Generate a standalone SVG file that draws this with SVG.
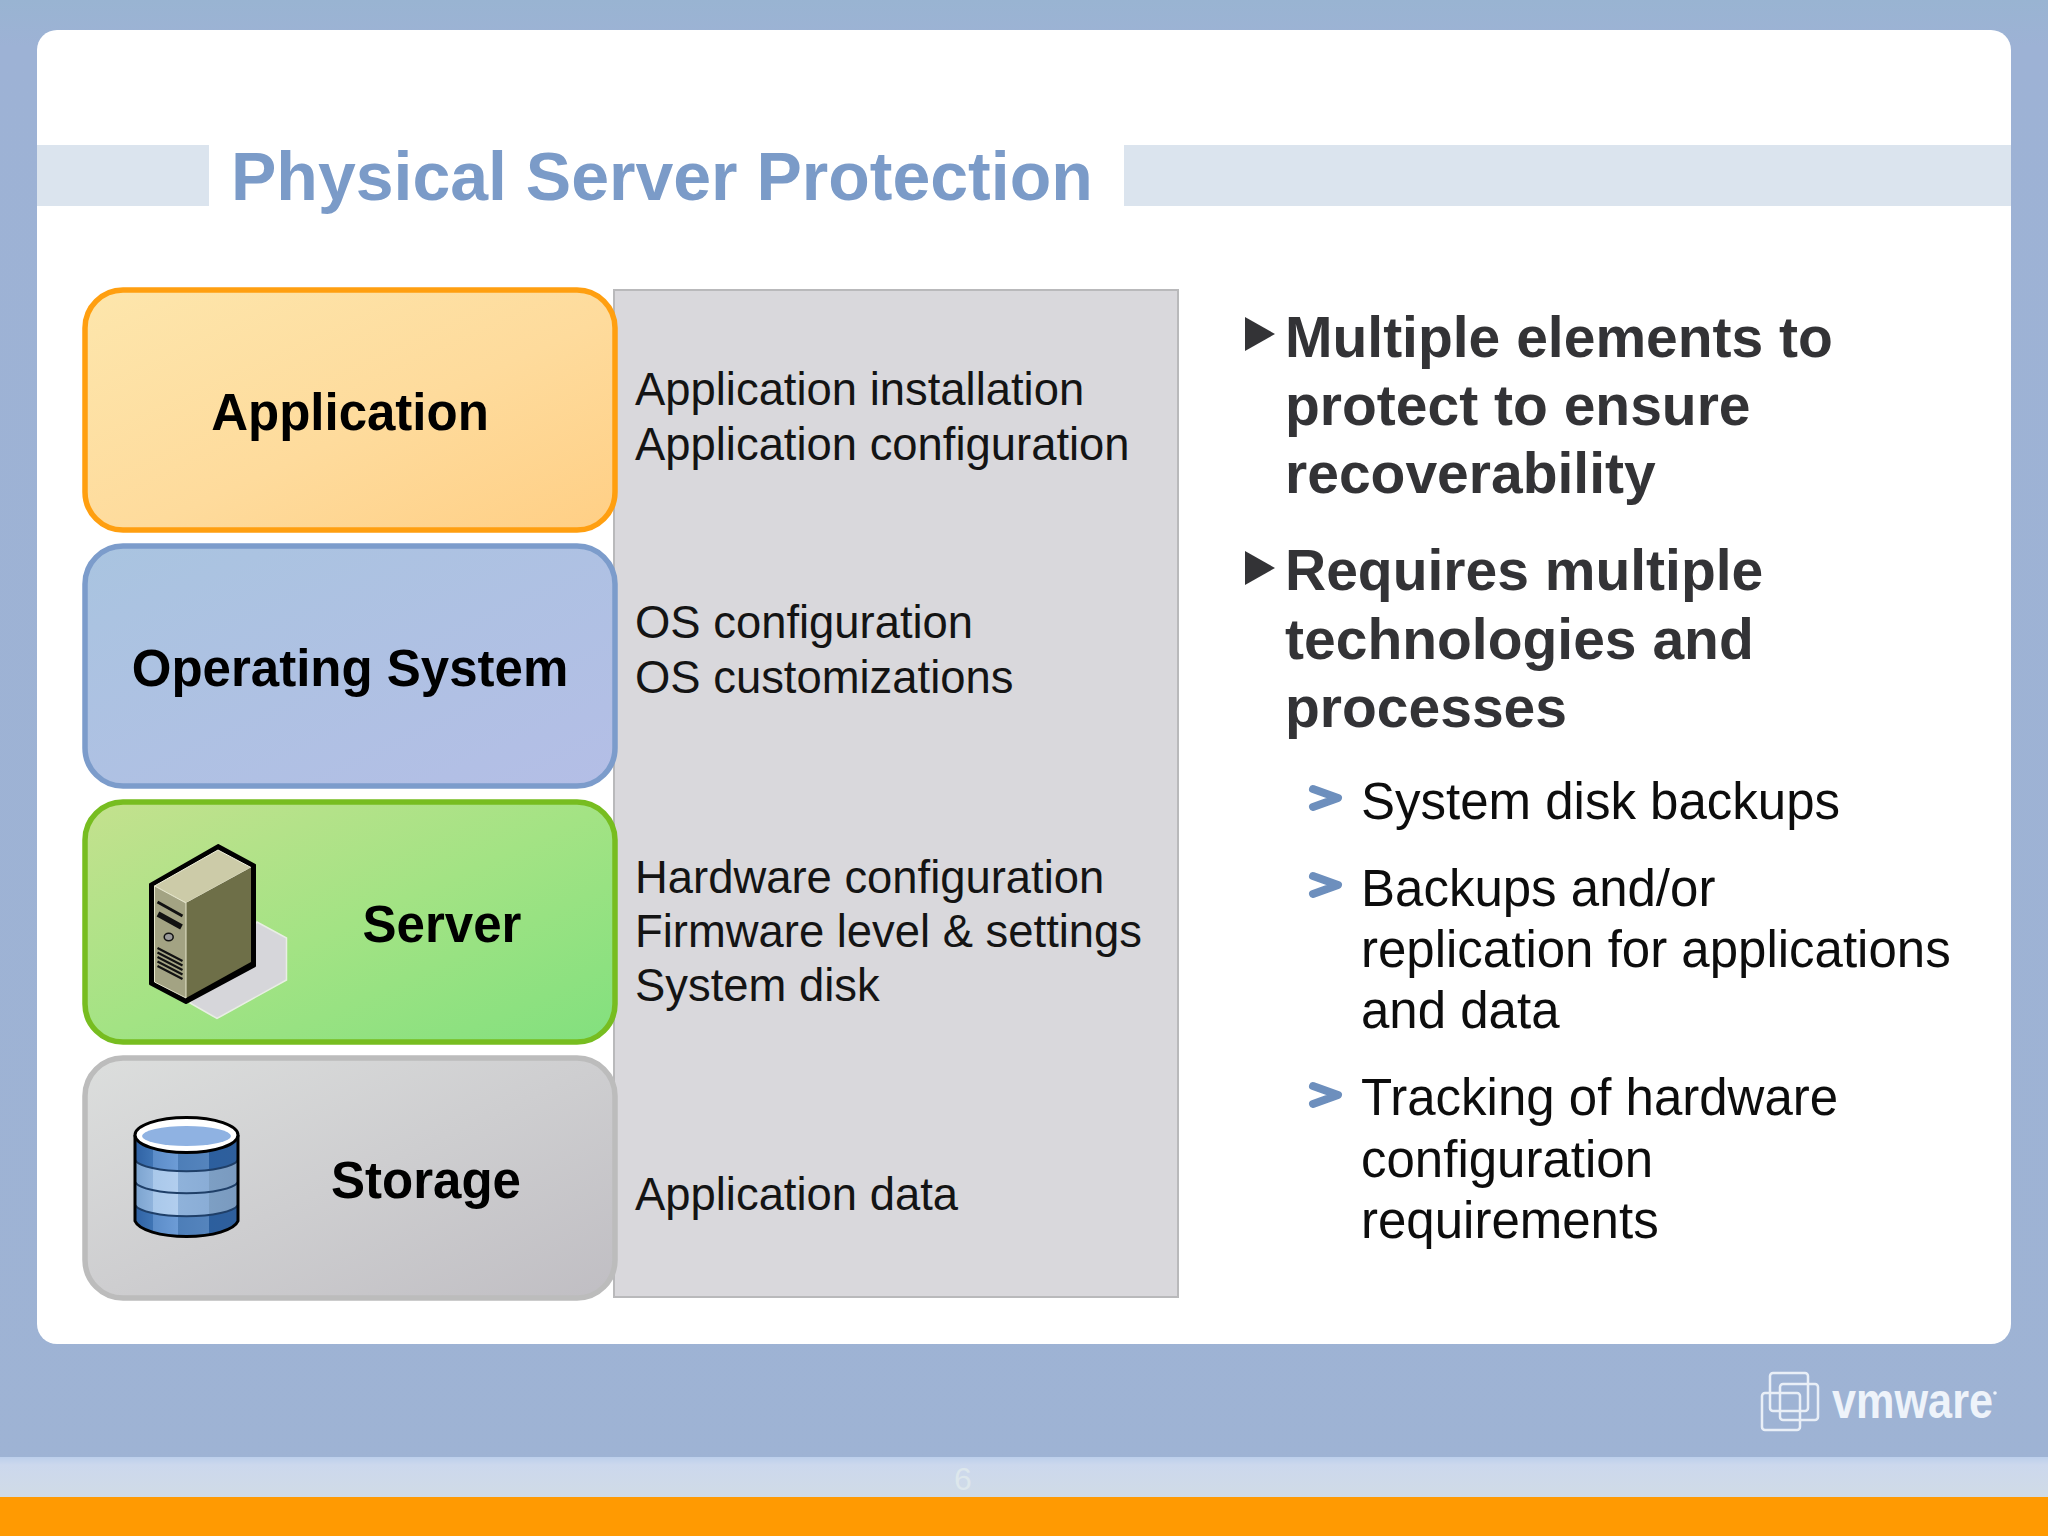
<svg xmlns="http://www.w3.org/2000/svg" width="2048" height="1536" viewBox="0 0 2048 1536">
<style>
text{font-family:"Liberation Sans",Arial,sans-serif}
.lbl{font-size:51px;font-weight:700;fill:#000}
.pt{font-size:45.4px;fill:#141414}
.b1{font-size:57px;font-weight:700;fill:#333336}
.b2{font-size:51px;fill:#0d0d0d}
.node{stroke-width:5.5}
.band{fill:#dbe4ee}
.logo{fill:none;stroke:#e9eff7;stroke-width:2.5}
</style>
<defs>
<linearGradient id="bg" x1="0" y1="0" x2="0" y2="1"><stop offset="0" stop-color="#99b4d2"/><stop offset=".03" stop-color="#9db2d5"/><stop offset="1" stop-color="#9eb3d4"/></linearGradient>
<linearGradient id="gA" x1="0" y1="0" x2="1" y2="1"><stop offset="0" stop-color="#fde6ac"/><stop offset=".55" stop-color="#fedb9c"/><stop offset="1" stop-color="#ffcf85"/></linearGradient>
<linearGradient id="gO" x1="0" y1="0" x2="1" y2="1"><stop offset="0" stop-color="#a9c4e0"/><stop offset="1" stop-color="#b4bee6"/></linearGradient>
<linearGradient id="gS" x1="0" y1="0" x2="1" y2="1"><stop offset="0" stop-color="#c4e18e"/><stop offset=".5" stop-color="#a3e384"/><stop offset="1" stop-color="#82e07e"/></linearGradient>
<linearGradient id="gT" x1="0" y1="0" x2="1" y2="1"><stop offset="0" stop-color="#dcdedd"/><stop offset="1" stop-color="#c0bec3"/></linearGradient>
<linearGradient id="foot" x1="0" y1="0" x2="0" y2="1"><stop offset="0" stop-color="#bccfeb"/><stop offset=".2" stop-color="#ccd8ed"/><stop offset="1" stop-color="#d0dbe6"/></linearGradient>
<linearGradient id="cylDark" x1="0" y1="0" x2="1" y2="0"><stop offset="0" stop-color="#2f62a4"/><stop offset=".17" stop-color="#3f74b4"/><stop offset=".17" stop-color="#5b8cc8"/><stop offset=".42" stop-color="#6d9cd6"/><stop offset=".42" stop-color="#4d7eb8"/><stop offset=".72" stop-color="#5584bd"/><stop offset=".72" stop-color="#2c5f9e"/><stop offset="1" stop-color="#2f5f9c"/></linearGradient>
<linearGradient id="cylLight" x1="0" y1="0" x2="1" y2="0"><stop offset="0" stop-color="#7ba3cf"/><stop offset=".17" stop-color="#8fb3dc"/><stop offset=".17" stop-color="#a9c8ea"/><stop offset=".42" stop-color="#b2ceee"/><stop offset=".42" stop-color="#8fb2da"/><stop offset=".72" stop-color="#8aadd6"/><stop offset=".72" stop-color="#7d9fc4"/><stop offset="1" stop-color="#7a9abf"/></linearGradient>
<clipPath id="cyl"><path d="M135 1135V1221A52 18 0 0 0 238 1221V1135Z"/></clipPath>
<polygon id="tri" points="0,0 30,17 0,34" fill="#333336"/>
<path id="chev" d="M4 4L29 13L4 22" fill="none" stroke="#6d8fbd" stroke-width="8" stroke-linecap="round" stroke-linejoin="round"/>
</defs>

<g id="background">
<rect width="2048" height="1536" fill="url(#bg)"/>
<rect x="37" y="30" width="1974" height="1314" rx="20" fill="#fff"/>
<rect x="37" y="145" width="172" height="61" class="band"/>
<rect x="1124" y="145" width="887" height="61" class="band"/>
<rect y="1457" width="2048" height="40" fill="url(#foot)"/>
<rect y="1497" width="2048" height="39" fill="#ff9a02"/>
<text x="963" y="1490" font-size="32" text-anchor="middle" fill="#dde7ec">6</text>
</g>

<text id="title" x="231" y="200" font-size="68" font-weight="700" fill="#7b9bc8">Physical Server Protection</text>

<g id="details">
<rect x="614" y="290" width="564" height="1007" fill="#d9d8dc" stroke="#b9b9bb" stroke-width="2"/>
<text class="pt" x="635" y="405">Application installation</text>
<text class="pt" x="635" y="460">Application configuration</text>
<text class="pt" x="635" y="638">OS configuration</text>
<text class="pt" x="635" y="693">OS customizations</text>
<text class="pt" x="635" y="893">Hardware configuration</text>
<text class="pt" x="635" y="947">Firmware level &amp; settings</text>
<text class="pt" x="635" y="1001">System disk</text>
<text class="pt" x="635" y="1210">Application data</text>
</g>

<g id="node-application">
<rect class="node" x="85" y="290" width="530" height="240" rx="38" fill="url(#gA)" stroke="#ff9f10"/>
<text class="lbl" x="350" y="430" text-anchor="middle">Application</text>
</g>
<g id="node-os">
<rect class="node" x="85" y="546" width="530" height="240" rx="38" fill="url(#gO)" stroke="#7c9ccb"/>
<text class="lbl" x="350" y="686" text-anchor="middle">Operating System</text>
</g>
<g id="node-server">
<rect class="node" x="85" y="802" width="530" height="240" rx="38" fill="url(#gS)" stroke="#77bd20"/>
<polygon points="257,922 286.5,938 286.5,980 217,1018.5 190,1003" fill="#d6d6da" stroke="#e9eee4" stroke-width="1.5"/>
<polygon points="218,845 255,865 255,966 186,1003 150,984 150,884" fill="#000" stroke="#000" stroke-width="2" stroke-linejoin="round"/>
<polygon points="218,850 251,867.5 186,903 154.500,886" fill="#cccba8" stroke="#f2f2dc" stroke-width="1"/>
<polygon points="251,867.5 251,962 186,998 186,903" fill="#6e6f48"/>
<polygon points="154.500,886 186,903 186,998 154.500,982" fill="#a3a383" stroke="#e6e6cc" stroke-width="1"/>
<g fill="none" stroke="#111">
<path d="M157.500 902L182.500 916" stroke-width="3"/>
<path d="M158 914L181.500 927" stroke-width="5.500"/>
<ellipse cx="168.700" cy="937" rx="4.500" ry="3.800" fill="#9a9a9a" stroke-width="1.500"/>
<path d="M157.500 948L182.500 961M157.500 952.500L182.500 965.500M157.500 957L182.500 970M157.500 961.500L182.500 974.500M157.500 966L182.500 979" stroke-width="2.200"/>
</g>
<text class="lbl" x="442" y="942" text-anchor="middle">Server</text>
</g>
<g id="node-storage">
<rect class="node" x="85" y="1058" width="530" height="240" rx="38" fill="url(#gT)" stroke="#bcbcbc"/>
<g clip-path="url(#cyl)">
<rect x="135" y="1120" width="103" height="120" fill="url(#cylDark)"/>
<path d="M135 1160A52 13 0 0 0 238 1160V1205A52 13 0 0 1 135 1205Z" fill="url(#cylLight)"/>
<path d="M135 1160A52 13 0 0 0 238 1160M135 1182A52 13 0 0 0 238 1182M135 1205A52 13 0 0 0 238 1205" fill="none" stroke="#1f3f68" stroke-width="2"/>
</g>
<path d="M135 1135V1221A52 18 0 0 0 238 1221V1135" fill="none" stroke="#000" stroke-width="3"/>
<ellipse cx="186.500" cy="1135" rx="51.500" ry="17.500" fill="#fff" stroke="#000" stroke-width="3"/>
<ellipse cx="186.500" cy="1136" rx="44.500" ry="10" fill="#8fb2e2"/>
<text class="lbl" x="426" y="1198" text-anchor="middle">Storage</text>
</g>

<g id="connectors"/>

<g id="bullets">
<use href="#tri" x="1245" y="317"/>
<text class="b1" x="1285" y="357">Multiple elements to</text>
<text class="b1" x="1285" y="425">protect to ensure</text>
<text class="b1" x="1285" y="493">recoverability</text>
<use href="#tri" x="1245" y="551"/>
<text class="b1" x="1285" y="590">Requires multiple</text>
<text class="b1" x="1285" y="659">technologies and</text>
<text class="b1" x="1285" y="727">processes</text>
<use href="#chev" x="1309" y="785"/>
<text class="b2" x="1361" y="819">System disk backups</text>
<use href="#chev" x="1309" y="872"/>
<text class="b2" x="1361" y="906">Backups and/or</text>
<text class="b2" x="1361" y="967">replication for applications</text>
<text class="b2" x="1361" y="1028">and data</text>
<use href="#chev" x="1309" y="1082"/>
<text class="b2" x="1361" y="1115">Tracking of hardware</text>
<text class="b2" x="1361" y="1177">configuration</text>
<text class="b2" x="1361" y="1238">requirements</text>
</g>

<g id="logo">
<rect class="logo" x="1770" y="1373" width="38" height="38" rx="3"/>
<rect class="logo" x="1780" y="1384" width="38" height="36" rx="3"/>
<rect class="logo" x="1762" y="1393" width="38" height="37" rx="3"/>
<text x="1832" y="1418" font-size="50" font-weight="700" fill="#eef3fa" textLength="161" lengthAdjust="spacingAndGlyphs">vmware</text>
<circle cx="1995" cy="1393" r="1.800" fill="#eef3fa"/>
</g>
</svg>
